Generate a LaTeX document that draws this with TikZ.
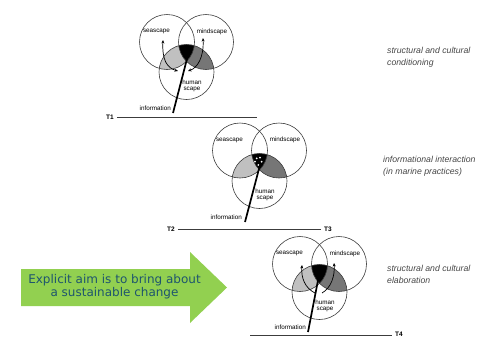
\documentclass[tikz,border=0pt]{standalone}
\usepackage{fontspec}
\setmainfont{Liberation Sans}
\newfontfamily\aimfont{DejaVu Sans}
\usepackage{tikz}
\usetikzlibrary{arrows.meta, positioning, calc}
\definecolor{VnLight}{RGB}{192,192,192}
\definecolor{VnDark}{RGB}{118,118,118}
\definecolor{VnLine}{RGB}{60,60,60}
\definecolor{VnText}{RGB}{70,70,70}
\definecolor{AimGreen}{RGB}{146,208,80}
\definecolor{AimText}{RGB}{30,85,110}

\begin{document}
\begin{tikzpicture}[x=1pt, y=-1pt,
          scape/.style={circle, draw=VnLine, line width=0.6pt,
                        minimum size=55pt, inner sep=0pt},
          lbl/.style={font=\fontsize{6.3}{6.6}\selectfont, inner sep=0pt,
                      align=center},
          stage/.style={font=\fontsize{8.7}{11.5}\selectfont\itshape,
                        text=VnText, align=left, anchor=west, inner sep=0pt},
          tick/.style={font=\fontsize{6.5}{7}\selectfont\bfseries,
                       inner sep=3pt},
          axis/.style={draw=VnLine, line width=0.6pt},
          info/.style={line width=1.7pt},
          flow/.style={line width=0.7pt}
        ]
        \useasboundingbox (0,0) rectangle (478,338);

        % Three scapes per stage, shaded overlaps first
        \foreach \i/\x/\y/\d in {1/167/42/30, 2/240/150.5/30.5, 3/300/264/28} {
          \begin{scope}
            \clip (\x,\y) circle (27.5);
            \fill[VnLight] (\x+19.5,\y+\d) circle (27.5);
          \end{scope}
          \begin{scope}
            \clip (\x+39,\y) circle (27.5);
            \fill[VnDark] (\x+19.5,\y+\d) circle (27.5);
          \end{scope}
          \begin{scope}
            \clip (\x,\y) circle (27.5);
            \clip (\x+39,\y) circle (27.5);
            \fill[black] (\x+19.5,\y+\d) circle (27.5);
          \end{scope}
          \node[scape] (sea\i) at (\x,\y) {};
          \node[scape] (mind\i) at (\x+39,\y) {};
          \node[scape] (hum\i) at (\x+19.5,\y+\d) {};
          \node[lbl] (sealbl\i) at (\x-10.5,\y-10.5) {seascape};
          \node[lbl] (mindlbl\i) at (\x+45,\y-10.5) {mindscape};
          \node[lbl] (humlbl\i) at (\x+25,\y+\d+14) {human\\scape};
        }

        % White dots in the middle stage
        \foreach \dx/\dy in {-3.3/-22.7, 0/-23.3, -5/-19.3, 1.7/-19.3, -1.7/-16} {
          \fill[white] (260+\dx,181+\dy) circle (1);
        }

        % Stage 1: conditioning
        \coordinate (info1bot) at (173,113);
        \coordinate (info1top) at (188,55);
        \draw[info] (info1bot) -- (info1top);
        \node[lbl, anchor=east] (info1) at (171,108) {information};
        \coordinate (sea1out) at (163,40);
        \coordinate (sea1in) at (178,71);
        \coordinate (mind1out) at (203,38);
        \coordinate (mind1in) at (188,71);
        \draw[flow, {Stealth[length=3.5pt, width=3pt]}-{Stealth[length=3.5pt, width=3pt]}]
              (sea1out) .. controls (162,60) and (167,68) .. (sea1in);
        \draw[flow, {Stealth[length=3.5pt, width=3pt]}-{Stealth[length=3.5pt, width=3pt]}]
              (mind1out) .. controls (204,58) and (197,68) .. (mind1in);
        \node[tick] (t1) at (110,117) {T1};
        \coordinate (t1end) at (257,117);
        \draw[axis] (t1) -- (t1end);

        % Stage 2: interaction
        \coordinate (info2bot) at (245,222);
        \coordinate (info2top) at (260,165);
        \draw[info] (info2bot) -- (info2top);
        \node[lbl, anchor=east] (info2) at (242,217) {information};
        \node[tick] (t2) at (171,229) {T2};
        \node[tick] (t3) at (328,229) {T3};
        \draw[axis] (t2) -- (t3);

        % Stage 3: elaboration
        \coordinate (info3bot) at (308,332);
        \coordinate (info3top) at (320,270);
        \draw[info] (info3bot) -- (info3top);
        \node[lbl, anchor=east] (info3) at (306,327) {information};
        \coordinate (sea3in) at (315,293);
        \coordinate (sea3out) at (302,265);
        \coordinate (mind3in) at (322,293);
        \coordinate (mind3out) at (334,263);
        \draw[flow, -{Stealth[length=3.5pt, width=3pt]}]
              (sea3in) .. controls (305,288) and (301,278) .. (sea3out);
        \draw[flow, -{Stealth[length=3.5pt, width=3pt]}]
              (mind3in) .. controls (331,288) and (335,276) .. (mind3out);
        \node[tick] (t4) at (399,334.5) {T4};
        \coordinate (t4start) at (250,335);
        \draw[axis] (t4start) -- (t4start -| t4.west);

        % Stage captions
        \node[stage] (cond) at (387,57) {structural and cultural\\conditioning};
        \node[stage] (inter) at (383,166) {informational interaction\\(in marine practices)};
        \node[stage] (elab) at (387,274.5) {structural and cultural\\elaboration};

        % Green arrow
        \fill[AimGreen] (21,269) -- (190,269) -- (190,252) -- (227,287.5)
              -- (190,323) -- (190,306) -- (21,306) -- cycle;
        \node[font=\aimfont\fontsize{12}{13.3}\selectfont, text=AimText,
              align=center] (aim) at (114.5,286.5)
              {Explicit aim is to bring about\\a sustainable change};
      \end{tikzpicture}
\end{document}
